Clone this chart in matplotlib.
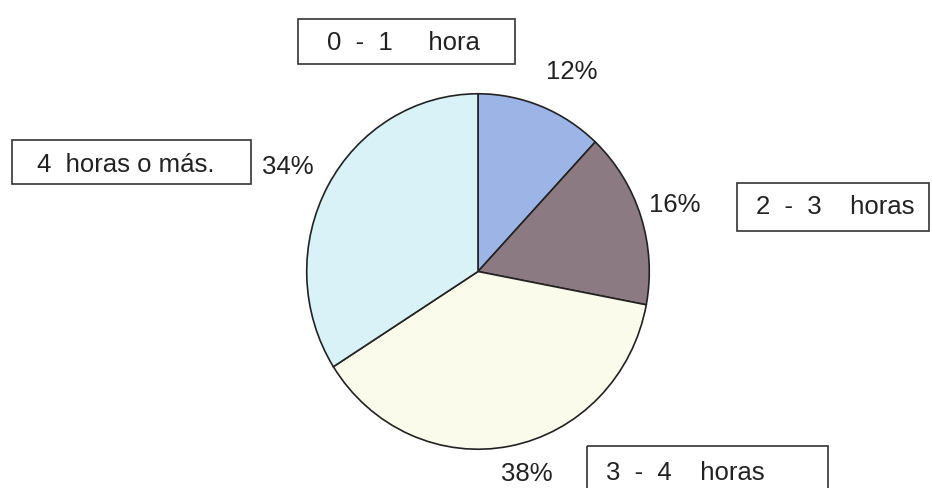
import matplotlib.pyplot as plt
from matplotlib.patches import Rectangle

plt.rcParams['font.family'] = ['Liberation Sans', 'DejaVu Sans']

categories = ['0  -  1     hora', '2  -  3    horas', '3  -  4    horas', '4  horas o más.']
values = [12, 16, 38, 34]
colors = ['#9db4e6', '#8c7a82', '#fafbeb', '#d9f2f7']

W, H = 932, 488
dpi = 100
fig = plt.figure(figsize=(W / dpi, H / dpi), dpi=dpi)

# pie axes placed by pixel box (slightly taller than wide, like the scan)
left, top, right, bottom = 305, 92, 651, 451
ax = fig.add_axes([left / W, 1 - bottom / H, (right - left) / W, (bottom - top) / H])
ax.pie(values, colors=colors, startangle=90, counterclock=False,
       wedgeprops=dict(edgecolor='#222222', linewidth=1.2))
ax.set_aspect('auto')
ax.set_xlim(-1.01, 1.01)
ax.set_ylim(-1.01, 1.01)

# overlay in pixel coordinates for labels and boxes
ov = fig.add_axes([0, 0, 1, 1])
ov.set_xlim(0, W)
ov.set_ylim(H, 0)
ov.axis('off')

boxes = [(298, 19, 217, 45), (737, 183, 192, 48), (587, 446, 241, 50), (12, 140, 239, 44)]
box_text = [(327, 43), (756, 207), (606, 473), (37, 165)]
pct_pos = [(572, 72), (675, 205), (527, 474), (288, 167)]

for (bx, by, bw, bh), (tx, ty), (px, py), cat, v in zip(boxes, box_text, pct_pos, categories, values):
    ov.add_patch(Rectangle((bx, by), bw, bh, fill=False, edgecolor='#333333', linewidth=1.2))
    ov.text(tx, ty, cat, fontsize=18.5, ha='left', va='center', color='#222222')
    ov.text(px, py, f'{v}%', fontsize=18.5, ha='center', va='center', color='#222222')

plt.savefig('out.png', dpi=dpi)
